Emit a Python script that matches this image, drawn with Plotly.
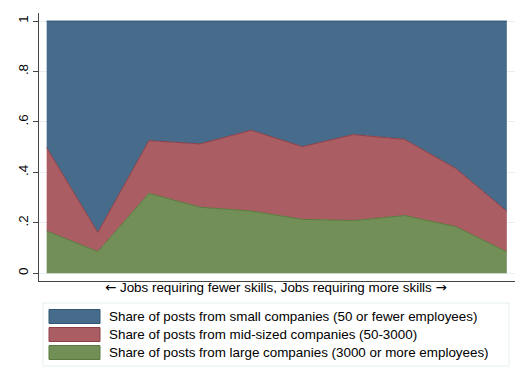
import plotly.graph_objects as go

x_pos = list(range(1, 11))
large = [0.168, 0.086, 0.317, 0.262, 0.247, 0.214, 0.209, 0.229, 0.185, 0.085]
mid = [0.330, 0.076, 0.209, 0.251, 0.320, 0.288, 0.341, 0.302, 0.231, 0.161]
small = [0.502, 0.838, 0.474, 0.487, 0.433, 0.498, 0.450, 0.469, 0.584, 0.754]

names = [
    "Share of posts from small companies (50 or fewer employees)",
    "Share of posts from mid-sized companies (50-3000)",
    "Share of posts from large companies (3000 or more employees)",
]
fills = ["#466b8b", "#aa5d62", "#728f58"]
lines = ["#2f5675", "#8f3e45", "#587a3c"]
ytick_vals = [0, 0.2, 0.4, 0.6, 0.8, 1]
ytick_text = ["0", ".2", ".4", ".6", ".8", "1"]
xtitle_core = "Jobs requiring fewer skills, Jobs requiring more skills"

fig = go.Figure()
series = [(large, 2), (mid, 1), (small, 0)]
for vals, idx in series:
    fig.add_trace(go.Scatter(
        x=x_pos, y=vals, stackgroup="one", mode="lines",
        name=names[idx], fillcolor=fills[idx],
        line=dict(color=lines[idx], width=1), showlegend=False,
    ))

# page body has an 8px margin; compensate so pixels match the window
OFF = 8
W, H = 527 - OFF, 383 - OFF
ml, mr, mt, mb = 39 - OFF, 12, 13 - OFF, 102
pw, ph = W - ml - mr, H - mt - mb
FS = 13.4
fig.update_layout(
    width=W, height=H,
    margin=dict(l=ml, r=mr, t=mt, b=mb, autoexpand=False),
    paper_bgcolor="white", plot_bgcolor="white",
    font=dict(family="Liberation Sans, Arial", color="black", size=FS),
)
fig.update_xaxes(range=[0.85, 10.16], showgrid=False, zeroline=False,
                 showticklabels=False, ticks="", showline=True,
                 linecolor="#444444", linewidth=1, automargin=False)
fig.update_yaxes(range=[-0.0305, 1.032], tickvals=ytick_vals, ticktext=ytick_text,
                 tickangle=-90, ticks="outside", ticklen=5, tickcolor="#444444",
                 showgrid=True, gridcolor="#e8eff1", gridwidth=1, zeroline=False,
                 showline=True, linecolor="#444444", linewidth=1,
                 tickfont=dict(size=13.4), automargin=False)


def px_x(p):
    return (p - OFF - ml) / pw


def px_y(p):
    return (H - mb - (p - OFF)) / ph


# x-axis title (arrows drawn in a wider font)
arrow_l = '<span style="font-family:DejaVu Sans">\u2190</span>'
arrow_r = '<span style="font-family:DejaVu Sans">\u2192</span>'
fig.add_annotation(text=arrow_l + " " + xtitle_core + " " + arrow_r,
                   xref="paper", yref="paper",
                   x=px_x(275.5), y=px_y(287),
                   xanchor="center", yanchor="middle", showarrow=False,
                   font=dict(size=FS))

# manual legend
fig.add_shape(type="rect", xref="paper", yref="paper",
              x0=px_x(43), x1=px_x(509), y0=px_y(366), y1=px_y(303),
              line=dict(color="#e4eef0", width=1), fillcolor="white")
rows_y = [316.5, 334.5, 352.5]
for i, yc in enumerate(rows_y):
    fig.add_shape(type="rect", xref="paper", yref="paper",
                  x0=px_x(49), x1=px_x(100), y0=px_y(yc + 7), y1=px_y(yc - 7),
                  line=dict(color=lines[i], width=1), fillcolor=fills[i])
    fig.add_annotation(text=names[i], xref="paper", yref="paper",
                       x=px_x(107), y=px_y(yc), xanchor="left", yanchor="middle",
                       showarrow=False, font=dict(size=FS))

fig.write_html("out.html")
